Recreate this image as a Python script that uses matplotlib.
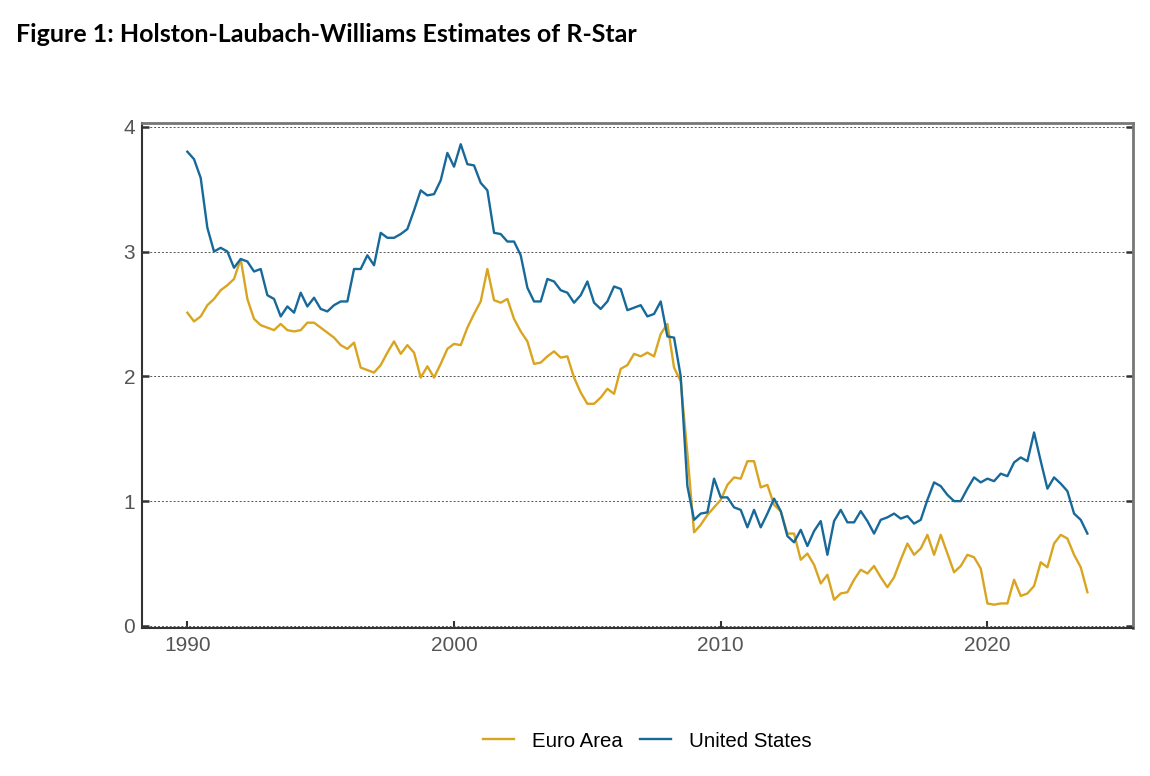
import numpy as np
import pandas as pd
import matplotlib
matplotlib.use("Agg")
import matplotlib.pyplot as plt

# Quarterly periods 1990Q1 - 2023Q4
quarters = pd.period_range("1990Q1", "2023Q4", freq="Q")

us_values = [
    3.80, 3.74, 3.59, 3.19, 3.00, 3.03, 3.00, 2.87, 2.94, 2.92,
    2.84, 2.86, 2.65, 2.62, 2.48, 2.56, 2.51, 2.67, 2.56, 2.63,
    2.54, 2.52, 2.57, 2.60, 2.60, 2.86, 2.86, 2.97, 2.89, 3.15,
    3.11, 3.11, 3.14, 3.18, 3.33, 3.49, 3.45, 3.46, 3.57, 3.79,
    3.68, 3.86, 3.70, 3.69, 3.55, 3.49, 3.15, 3.14, 3.08, 3.08,
    2.97, 2.71, 2.60, 2.60, 2.78, 2.76, 2.69, 2.67, 2.59, 2.65,
    2.76, 2.59, 2.54, 2.60, 2.72, 2.70, 2.53, 2.55, 2.57, 2.48,
    2.50, 2.60, 2.32, 2.31, 2.00, 1.12, 0.85, 0.90, 0.91, 1.18,
    1.03, 1.03, 0.95, 0.93, 0.79, 0.93, 0.79, 0.90, 1.02, 0.92,
    0.72, 0.67, 0.77, 0.64, 0.76, 0.84, 0.57, 0.84, 0.93, 0.83,
    0.83, 0.92, 0.84, 0.74, 0.85, 0.87, 0.90, 0.86, 0.88, 0.82,
    0.85, 1.01, 1.15, 1.12, 1.05, 1.00, 1.00, 1.10, 1.19, 1.15,
    1.18, 1.16, 1.22, 1.20, 1.31, 1.35, 1.32, 1.55, 1.32, 1.10,
    1.19, 1.14, 1.08, 0.90, 0.85, 0.74,
]

euro_values = [
    2.51, 2.44, 2.48, 2.57, 2.62, 2.69, 2.73, 2.78, 2.94, 2.62,
    2.46, 2.41, 2.39, 2.37, 2.42, 2.37, 2.36, 2.37, 2.43, 2.43,
    2.39, 2.35, 2.31, 2.25, 2.22, 2.27, 2.07, 2.05, 2.03, 2.09,
    2.19, 2.28, 2.18, 2.25, 2.19, 1.99, 2.08, 1.99, 2.10, 2.22,
    2.26, 2.25, 2.39, 2.50, 2.60, 2.86, 2.61, 2.59, 2.62, 2.46,
    2.36, 2.28, 2.10, 2.11, 2.16, 2.20, 2.15, 2.16, 1.99, 1.87,
    1.78, 1.78, 1.83, 1.90, 1.86, 2.06, 2.09, 2.18, 2.16, 2.19,
    2.16, 2.34, 2.42, 2.07, 1.96, 1.38, 0.75, 0.81, 0.89, 0.95,
    1.01, 1.13, 1.19, 1.18, 1.32, 1.32, 1.11, 1.13, 0.97, 0.92,
    0.74, 0.74, 0.53, 0.58, 0.49, 0.34, 0.41, 0.21, 0.26, 0.27,
    0.37, 0.45, 0.42, 0.48, 0.39, 0.31, 0.39, 0.53, 0.66, 0.57,
    0.62, 0.73, 0.57, 0.73, 0.58, 0.43, 0.48, 0.57, 0.55, 0.46,
    0.18, 0.17, 0.18, 0.18, 0.37, 0.24, 0.26, 0.32, 0.51, 0.47,
    0.66, 0.73, 0.70, 0.57, 0.47, 0.27,
]

series_labels = ["Euro Area", "United States"]
x_ticks = [1990, 2000, 2010, 2020]
y_ticks = [0, 1, 2, 3, 4]
title = "Figure 1: Holston-Laubach-Williams Estimates of R-Star"

x = quarters.year + (quarters.quarter - 1) / 4.0

EURO_COLOR = "#D9A521"
US_COLOR = "#17699A"

fig = plt.figure(figsize=(11.5, 7.76), dpi=100)
ax = fig.add_axes([0.1235, 0.191, 0.8615, 0.6505])

ax.plot(x, euro_values, color=EURO_COLOR, lw=1.7, label=series_labels[0], zorder=3)
ax.plot(x, us_values, color=US_COLOR, lw=1.7, label=series_labels[1], zorder=3)

ax.set_xlim(1988.3, 2025.45)
ax.set_ylim(-0.015, 4.03)
ax.set_xticks(x_ticks)
ax.set_yticks(y_ticks)
ax.set_xticklabels([str(t) for t in x_ticks], family="Liberation Sans")
ax.set_yticklabels([str(t) for t in y_ticks], family="Liberation Sans")

ax.grid(axis="y", linestyle=(0, (2, 2)), color="#555555", lw=0.7, zorder=1)
ax.grid(axis="x", visible=False)

for side in ["left", "bottom"]:
    ax.spines[side].set_color("#333333")
    ax.spines[side].set_linewidth(1.5)
for side in ["top", "right"]:
    ax.spines[side].set_color("#777777")
    ax.spines[side].set_linewidth(2.0)

ax.tick_params(axis="y", direction="in", length=5, width=1.8, color="#333333",
               labelsize=15, labelcolor="#555555", left=True, right=True, pad=5)
ax.tick_params(axis="x", direction="in", length=5, width=1.5, color="#333333",
               labelsize=15, labelcolor="#555555", bottom=True, top=False, pad=6)

fig.text(0.014, 0.955, title, fontsize=18, fontweight="bold",
         family=["Lato", "DejaVu Sans"], ha="left", va="center", color="black")

leg = fig.legend(loc="center", bbox_to_anchor=(0.5626, 0.045), ncol=2, frameon=False,
                 prop={"family": "Liberation Sans", "size": 14.7},
                 handlelength=1.55, columnspacing=0.85, handletextpad=0.85)

fig.savefig("out.png", dpi=100)
